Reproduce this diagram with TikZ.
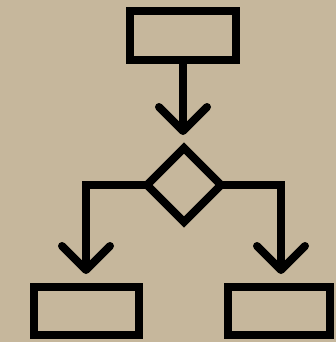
\documentclass[tikz,border=0pt]{standalone}
\usepackage{tikz}
\usetikzlibrary{shapes.geometric,calc}
\definecolor{bgtan}{RGB}{198,183,156}
\tikzset{
  boxnode/.style={draw=black, line width=8pt, rectangle, inner sep=0pt, minimum width=#1, minimum height=49pt},
  decnode/.style={draw=black, line width=8pt, diamond, aspect=1, inner sep=0pt, outer sep=0pt, minimum width=74pt, minimum height=74pt},
  conn/.style={draw=black, line width=8pt, line join=miter},
  chev/.style={draw=black, line width=8pt, line cap=round, line join=round}
}
\begin{document}
\begin{tikzpicture}[x=1pt,y=-1pt]
  \fill[bgtan] (0,0) rectangle (336,342);
  \useasboundingbox (0,0) rectangle (336,342);
  \node[boxnode=106pt] (top) at (183,35.5) {};
  \node[decnode] (dec) at (184,185) {};
  \node[boxnode=105pt, minimum height=48pt] (bl) at (86.5,311) {};
  \node[boxnode=102pt, minimum height=48pt] (br) at (279,311) {};
  \coordinate (t1) at (183,131);
  \coordinate (t2) at (86,270);
  \coordinate (t3) at (281,270);
  \draw[conn] (top.south) -- (t1);
  \draw[conn] (dec.west) -| (t2);
  \draw[conn] (dec.east) -| (t3);
  \draw[chev] ($(t1)+(-24,-24)$) -- (t1) -- ++(24,-24);
  \draw[chev] ($(t2)+(-24,-24)$) -- (t2) -- ++(24,-24);
  \draw[chev] ($(t3)+(-24,-24)$) -- (t3) -- ++(24,-24);
\end{tikzpicture}
\end{document}
